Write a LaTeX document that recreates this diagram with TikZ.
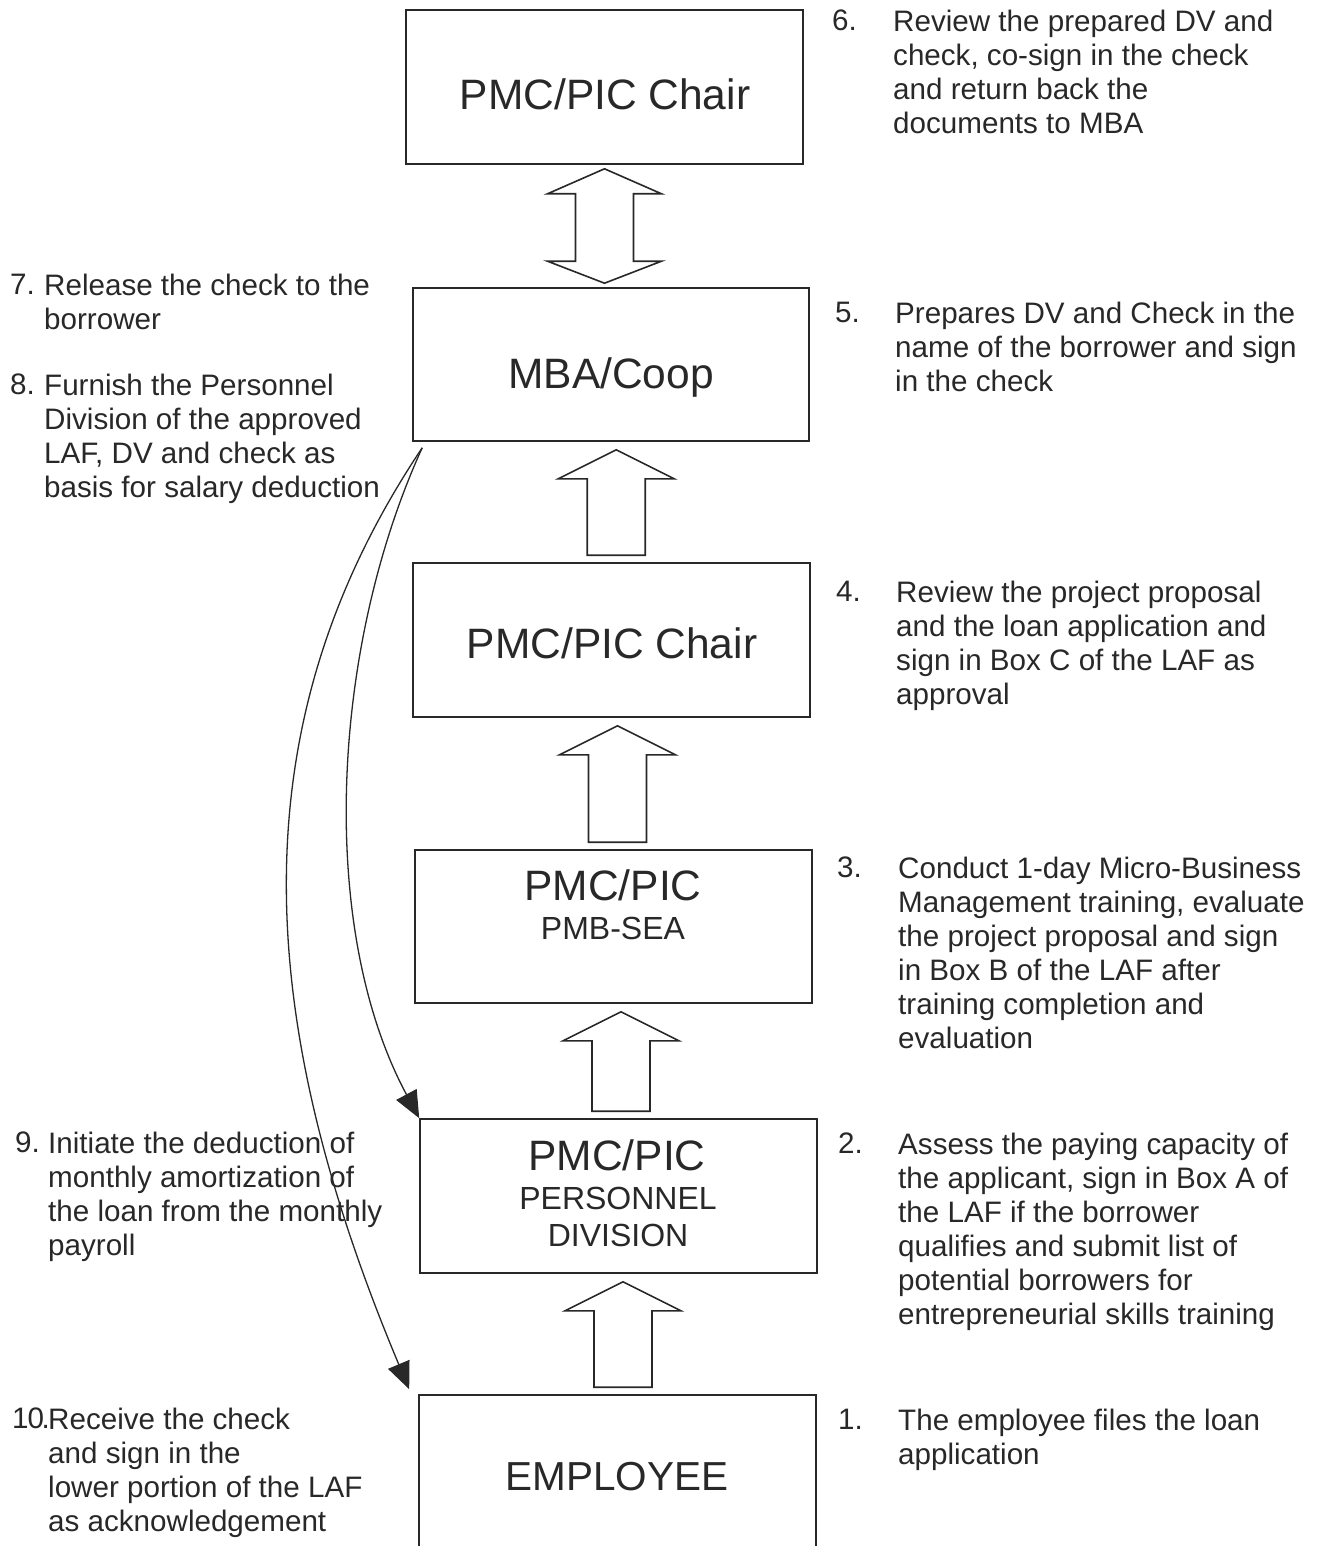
\documentclass[tikz,border=0pt]{standalone}
\usepackage{fontspec}
\setmainfont{Liberation Sans}
\usetikzlibrary{calc,arrows.meta}
\definecolor{ink}{RGB}{40,40,40}
\tikzset{
  box/.style={draw=ink, line width=1.6pt, fill=white, inner sep=0pt},
  bigtxt/.style={text=ink, inner sep=0pt, anchor=base, font=\fontsize{42.5}{48}\selectfont},
  subtxt/.style={text=ink, inner sep=0pt, anchor=base, font=\fontsize{32}{38}\selectfont},
  note/.style={text=ink, inner sep=0pt, anchor=north west, align=left, font=\fontsize{29.6}{34}\selectfont},
  blk/.style={draw=ink, line width=1.6pt, fill=white, line join=miter},
  flow/.style={draw=ink, line width=1.3pt, -{Triangle[length=27pt,width=23pt]}},
}
\newcommand\blkup[2]{%
  \draw[blk] let \p1=(#1.north), \p2=(#2.south), \n1={0.5*(\x1+\x2)+5pt} in
  (\n1-29pt,\y1+7pt) -- (\n1-29pt,\y2-37pt) -- (\n1-58pt,\y2-37pt) --
  (\n1,\y2-8pt) -- (\n1+58pt,\y2-37pt) -- (\n1+29pt,\y2-37pt) --
  (\n1+29pt,\y1+7pt) -- cycle;}
\begin{document}
\begin{tikzpicture}[x=1pt,y=-1pt]
\useasboundingbox (0,0) rectangle (1322,1546);
\fill[white] (0,0) rectangle (1322,1546);

% boxes
\node[box, minimum width=397, minimum height=154] (b1) at (604.5,87) {};
\node[box, minimum width=396, minimum height=153] (b2) at (611,364.5) {};
\node[box, minimum width=397, minimum height=154] (b3) at (611.5,640) {};
\node[box, minimum width=397, minimum height=153] (b4) at (613.5,926.5) {};
\node[box, minimum width=397, minimum height=154] (b5) at (618.5,1196) {};
\node[box, minimum width=397, minimum height=170] (b6) at (617.5,1480) {};

% box texts
\node[bigtxt] (t1) at (605,110) {PMC/PIC Chair};
\node[bigtxt] (t2) at (611,388) {MBA/Coop};
\node[bigtxt] (t3) at (612,658) {PMC/PIC Chair};
\node[bigtxt] (t4a) at (613,900) {PMC/PIC};
\node[subtxt] (t4b) at (613,939.5) {PMB-SEA};
\node[bigtxt] (t5a) at (617,1170) {PMC/PIC};
\node[subtxt] (t5b) at (618,1209.5) {PERSONNEL};
\node[subtxt] (t5c) at (618,1246.5) {DIVISION};
\node[bigtxt, font=\fontsize{40.5}{46}\selectfont] (t6) at (617,1490) {EMPLOYEE};

% double block arrow between b1 and b2
\draw[blk] let \p1=(b1.south), \p2=(b2.north) in
  (\x1,\y1-4pt) -- (\x1+57pt,\y1-29pt) -- (\x1+29pt,\y1-29pt) --
  (\x1+29pt,\y2+26pt) -- (\x1+57pt,\y2+26pt) -- (\x1,\y2+4pt) --
  (\x1-57pt,\y2+26pt) -- (\x1-29pt,\y2+26pt) -- (\x1-29pt,\y1-29pt) --
  (\x1-57pt,\y1-29pt) -- cycle;

% upward block arrows
\blkup{b3}{b2}
\blkup{b4}{b3}
\blkup{b5}{b4}
\blkup{b6}{b5}

% curved connectors
\coordinate (src) at ($(b2.south west)+(10,6)$);
\draw[flow] (src) .. controls (330,650) and (318,930) .. (b5.north west);
\draw[flow] (src) .. controls (240,720) and (250,1010) .. ($(b6.north west)+(-9,-5)$);

% left notes
\node[note] (n7) at (10,273.5) {7.};
\node[note] (l7) at (44,273.5) {Release the check to the\\borrower};
\node[note] (n8) at (10,373.5) {8.};
\node[note] (l8) at (44,373.5) {Furnish the Personnel\\Division of the approved\\LAF, DV and check as\\basis for salary deduction};
\node[note] (n9) at (15,1131.5) {9.};
\node[note] (l9) at (48,1131.5) {Initiate the deduction of\\monthly amortization of\\the loan from the monthly\\payroll};
\node[note] (n10) at (12,1407.5) {1\kern-1pt0\kern-2.5pt.};
\node[note] (l10) at (48,1407.5) {Receive the check\\and sign in the\\lower portion of the LAF\\as acknowledgement};

% right notes
\node[note] (n6) at (832,9.5) {6.};
\node[note] (r6) at (893,9.5) {Review the prepared DV and\\check, co-sign in the check\\and return back the\\documents to MBA};
\node[note] (n5) at (835,301.5) {5.};
\node[note] (r5) at (895,301.5) {Prepares DV and Check in the\\name of the borrower and sign\\in the check};
\node[note] (n4) at (836,580.5) {4.};
\node[note] (r4) at (896,580.5) {Review the project proposal\\and the loan application and\\sign in Box C of the LAF as\\approval};
\node[note] (n3) at (837,856.5) {3.};
\node[note] (r3) at (898,856.5) {Conduct 1-day Micro-Business\\Management training, evaluate\\the project proposal and sign\\in Box B of the LAF after\\training completion and\\evaluation};
\node[note] (n2) at (838,1132.5) {2.};
\node[note] (r2) at (898,1132.5) {Assess the paying capacity of\\the applicant, sign in Box A of\\the LAF if the borrower\\qualifies and submit list of\\potential borrowers for\\entrepreneurial skills training};
\node[note] (n1) at (838,1408.5) {1.};
\node[note] (r1) at (898,1408.5) {The employee files the loan\\application};
\end{tikzpicture}
\end{document}
